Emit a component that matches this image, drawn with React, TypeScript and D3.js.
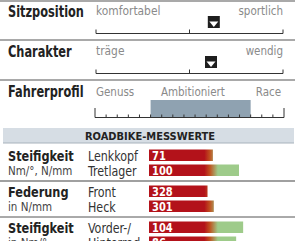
import React, { useRef, useEffect } from 'react';
import * as d3 from 'd3';

// profile rows
const profileTitles = ['Sitzposition', 'Charakter'];
const profileLeft = ['komfortabel', 'träge'];
const profileRight = ['sportlich', 'wendig'];
const profileValues = [6.3, 6.15];

// rider profile
const riderLabels = ['Genuss', 'Ambitioniert', 'Race'];
const riderTicks = d3.range(0, 18);
const riderSpan = [5, 14];

// measured values
const headerText = 'ROADBIKE-MESSWERTE';
const groupTitles = ['Steifigkeit', 'Federung', 'Steifigkeit'];
const groupUnits = ['Nm/°, N/mm', 'in N/mm', 'in Nm/°'];
const groupLabels = [['Lenkkopf', 'Tretlager'], ['Front', 'Heck'], ['Vorder-/', 'Hinterrad']];
const groupValues = [[71, 100], [328, 301], [104, 86]];
const groupDomains = [[0, 150], [579, 0], [-138, 209]];

const FONT = "'DejaVu Sans Condensed', 'Liberation Sans Narrow', 'DejaVu Sans', sans-serif";

const App = () => {
  const svgRef = useRef<SVGSVGElement>(null);

  useEffect(() => {
    const svg = d3.select(svgRef.current);
    svg.selectAll('*').remove();
    svg.style('font-family', FONT);

    // text with horizontal squeeze (the original uses a condensed face)
    const txt = (x: number, y: number, s: string, size: number, opts: any = {}) =>
      svg.append('text')
        .attr('transform', `translate(${x},${y}) scale(${opts.sx ?? 1},1)`)
        .attr('font-size', size)
        .attr('font-weight', opts.bold ? 'bold' : 'normal')
        .attr('fill', opts.fill ?? '#222')
        .attr('text-anchor', opts.anchor ?? 'start')
        .text(s);

    const defs = svg.append('defs');
    const grad = defs.append('linearGradient')
      .attr('id', 'barGrad')
      .attr('gradientUnits', 'userSpaceOnUse')
      .attr('x1', 149).attr('x2', 284).attr('y1', 0).attr('y2', 0);
    grad.append('stop').attr('offset', '0.41').attr('stop-color', '#b3121a');
    grad.append('stop').attr('offset', '0.45').attr('stop-color', '#c0501e');
    grad.append('stop').attr('offset', '0.51').attr('stop-color', '#9ecb8a');
    grad.append('stop').attr('offset', '1').attr('stop-color', '#9ecb8a');

    const hline = (y: number, color: string, w: number, x1 = 0, x2 = 295) =>
      svg.append('line').attr('x1', x1).attr('x2', x2).attr('y1', y).attr('y2', y)
        .attr('stroke', color).attr('stroke-width', w);

    hline(1, '#555', 1.2);

    // Sitzposition / Charakter
    const px = d3.scaleLinear().domain([0, 10]).range([96, 283]);
    const rowTop = [0, 40];
    profileTitles.forEach((t, i) => {
      const y0 = rowTop[i];
      txt(8, y0 + 17, t, 16, { bold: true, sx: 0.79 });
      txt(96, y0 + 15, profileLeft[i], 12.5, { fill: '#8a8a8a', sx: 0.95 });
      txt(283, y0 + 15, profileRight[i], 12.5, { fill: '#8a8a8a', sx: 0.92, anchor: 'end' });
      const ay = y0 + 33.5;
      hline(ay, '#333', 1, px(0), px(10));
      [0, 5, 10].forEach((v) => {
        svg.append('line').attr('x1', px(v)).attr('x2', px(v))
          .attr('y1', ay - 4).attr('y2', ay).attr('stroke', '#333').attr('stroke-width', 1);
      });
      const cx = px(profileValues[i]);
      const my = y0 + 16;
      svg.append('rect').attr('x', cx - 6).attr('y', my).attr('width', 12).attr('height', 12)
        .attr('fill', '#1e1e1e');
      svg.append('path')
        .attr('d', `M${cx - 4.5},${my + 5.5}L${cx + 4.5},${my + 5.5}L${cx},${my + 11}Z`)
        .attr('fill', '#fff');
      hline(y0 + 40, '#555', 1.2);
    });

    // Fahrerprofil
    txt(8, 97, 'Fahrerprofil', 16, { bold: true, sx: 0.79 });
    const rx = d3.scaleLinear().domain([0, 17]).range([95, 284]);
    svg.append('rect').attr('x', rx(riderSpan[0])).attr('y', 100)
      .attr('width', rx(riderSpan[1]) - rx(riderSpan[0])).attr('height', 17.5)
      .attr('fill', '#8fa2b1');
    hline(117.5, '#333', 1, rx(0), rx(17));
    riderTicks.forEach((t) => {
      const end = t === 0 || t === 17;
      svg.append('line').attr('x1', rx(t)).attr('x2', rx(t))
        .attr('y1', end ? 108 : 114.5).attr('y2', 117.5).attr('stroke', '#333').attr('stroke-width', 1);
    });
    const riderPos = [
      { x: rx(0) + 1, anchor: 'start' },
      { x: rx(8.8), anchor: 'middle' },
      { x: rx(15.6), anchor: 'middle' },
    ];
    riderLabels.forEach((l, i) => {
      txt(riderPos[i].x, 96, l, 12.5, { fill: '#8a8a8a', anchor: riderPos[i].anchor, sx: 0.92 });
    });

    // header band
    svg.append('rect').attr('x', 3).attr('y', 128).attr('width', 291).attr('height', 15)
      .attr('fill', '#d6dde4');
    hline(143, '#a8b2bc', 1, 3, 294);
    txt(150, 140, headerText, 11, { bold: true, anchor: 'middle' });

    // measured groups
    const gTop = [145, 181, 217];
    groupTitles.forEach((t, gi) => {
      const y0 = gTop[gi];
      const x = d3.scaleLinear().domain(groupDomains[gi]).range([0, 135]);
      txt(8, y0 + 15.5, t, 14, { bold: true, sx: 0.9 });
      txt(8, y0 + 29.5, groupUnits[gi], 12.5, { fill: '#444', sx: 0.92 });
      groupValues[gi].forEach((v, j) => {
        const by = y0 + 4.5 + j * 15;
        txt(88, by + 11, groupLabels[gi][j], 14, { fill: '#333', sx: 0.88 });
        svg.append('rect').attr('x', 149).attr('y', by).attr('width', x(v)).attr('height', 11.5)
          .attr('fill', 'url(#barGrad)');
        txt(152, by + 10.5, String(v), 13, { bold: true, fill: '#fff', sx: 0.85 });
      });
    });
    hline(181, '#a0a0a0', 2);
    hline(217, '#555', 1);
  }, []);

  return (
    <svg ref={svgRef} width={300} height={241}
      style={{ position: 'absolute', left: 0, top: 0, background: '#fff' }} />
  );
};

export default App;
